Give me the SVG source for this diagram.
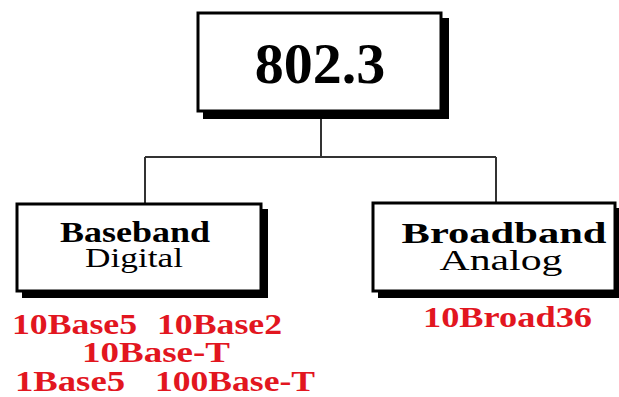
<svg xmlns="http://www.w3.org/2000/svg" width="619" height="397" viewBox="0 0 619 397">
<style>
.shadow{fill:#000}
.box{fill:#fff;stroke:#000;stroke-width:3}
.conn{stroke:#333;stroke-width:2;fill:none}
.t{font-family:"Liberation Serif","Times New Roman",serif;fill:#000;text-anchor:middle}
.b{font-weight:bold}
.red{font-family:"Liberation Serif","Times New Roman",serif;font-weight:bold;fill:#e2161f;font-size:30px}
</style>
<rect width="619" height="397" fill="#fff"/>
<g id="connectors">
<path class="conn" d="M321 112V157M145 157H496M145 157V203M496 157V202"/>
</g>
<g id="n8023">
<rect class="shadow" x="203" y="18" width="246" height="101"/>
<rect class="box" x="198" y="13" width="243" height="98"/>
<text class="t b" x="320" y="83" font-size="58">802.3</text>
</g>
<g id="baseband">
<rect class="shadow" x="22" y="209" width="246" height="89"/>
<rect class="box" x="17" y="204" width="244" height="87"/>
<text class="t b" x="135" y="242" font-size="30" textLength="150" lengthAdjust="spacingAndGlyphs">Baseband</text>
<text class="t" x="134" y="267" font-size="28" textLength="98" lengthAdjust="spacingAndGlyphs">Digital</text>
</g>
<g id="broadband">
<rect class="shadow" x="378" y="208" width="246" height="90"/>
<rect class="box" x="373" y="203" width="242" height="88"/>
<text class="t b" x="504" y="243" font-size="30" textLength="205" lengthAdjust="spacingAndGlyphs">Broadband</text>
<text class="t" x="501" y="270" font-size="30" textLength="123" lengthAdjust="spacingAndGlyphs">Analog</text>
</g>
<g id="labels">
<text class="red" x="12" y="334" textLength="125" lengthAdjust="spacingAndGlyphs">10Base5</text>
<text class="red" x="157" y="334" textLength="125" lengthAdjust="spacingAndGlyphs">10Base2</text>
<text class="red" x="82" y="362" textLength="148" lengthAdjust="spacingAndGlyphs">10Base-T</text>
<text class="red" x="15" y="391" textLength="110" lengthAdjust="spacingAndGlyphs">1Base5</text>
<text class="red" x="155" y="391" textLength="160" lengthAdjust="spacingAndGlyphs">100Base-T</text>
<text class="red" x="423" y="327" textLength="169" lengthAdjust="spacingAndGlyphs">10Broad36</text>
</g>
</svg>
